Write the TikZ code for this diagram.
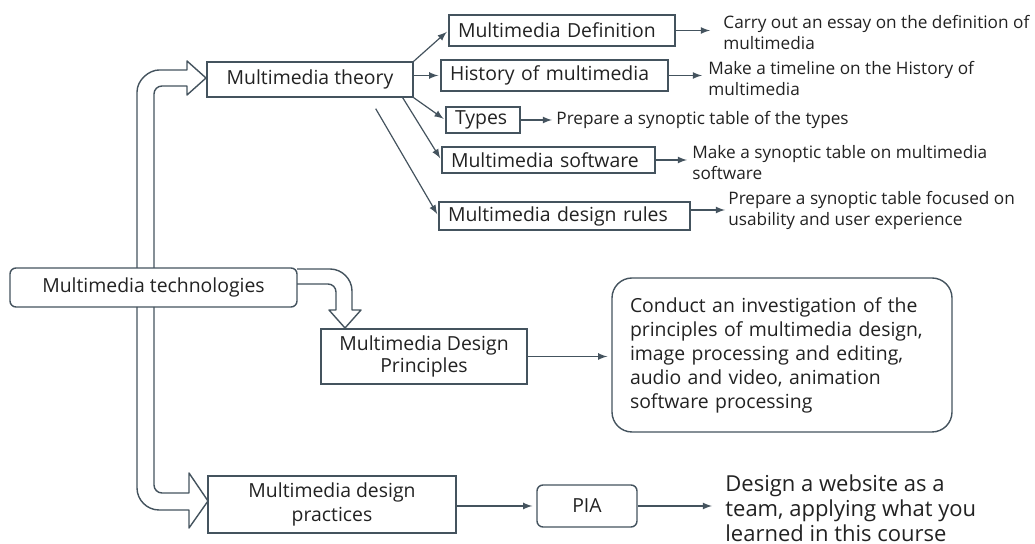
\documentclass[tikz,border=0pt]{standalone}
\usepackage{fontspec}
\setmainfont{Open Sans}
\usetikzlibrary{positioning}

\definecolor{linegrey}{HTML}{44535E}
\definecolor{inkgrey}{HTML}{222222}

\tikzset{
  plainbox/.style={draw=linegrey, line width=0.7pt, text=inkgrey,
    font=\fontsize{9.7}{11}\selectfont, align=center},
  softbox/.style={plainbox, rounded corners=3pt},
  subbox/.style={plainbox, align=left, inner xsep=4.5pt, inner ysep=0pt},
  task/.style={inner sep=0pt, anchor=west, align=left, text=inkgrey,
    font=\fontsize{8.6}{10.5}\selectfont},
  link/.style={draw=linegrey, line width=0.6pt, -latex, shorten >=1pt},
  bigarrow/.style={draw=linegrey, line width=0.7pt, fill=white, line join=round},
}

\begin{document}
\begin{tikzpicture}[x=0.5pt, y=-0.5pt]

\useasboundingbox (0,0) rectangle (1035,544);

% hollow block arrows out of the main box
\draw[bigarrow] (137,268) -- (137,92) .. controls (137,80) and (149,70) .. (159,70)
   -- (187,70) -- (187,61) -- (206,78) -- (187,95) -- (187,86) -- (162,86)
   .. controls (157.6,86) and (154,89.6) .. (154,94) -- (154,268);
\draw[bigarrow] (137,307) -- (137,488) .. controls (137,500) and (147,510) .. (159,510)
   -- (189,510) -- (189,528) -- (208,501) -- (189,473) -- (189,493) -- (162,493)
   .. controls (157.6,493) and (154,489.4) .. (154,485) -- (154,307);
\draw[bigarrow] (297,269) -- (330,269) .. controls (342,269) and (352,279) .. (352,291)
   -- (352,310) -- (361,310) -- (345,328) -- (329,310) -- (336,310) -- (336,292)
   .. controls (336,287.6) and (332.4,284) .. (328,284) -- (297,284);

% main boxes
\node[softbox, minimum width=143.5pt, minimum height=19.5pt] (tech) at (153.5,287.5) {Multimedia technologies};
\node[plainbox, minimum width=103pt, minimum height=17.5pt] (theory) at (310,79.5) {Multimedia theory};
\node[plainbox, minimum width=103pt, minimum height=27.5pt] (princ) at (424,356.5) {Multimedia Design\\Principles};
\node[plainbox, minimum width=124pt, minimum height=27.5pt, font=\fontsize{9.7}{12}\selectfont] (practice) at (332,504.5) {Multimedia design\\practices};
\node[softbox, minimum width=50pt, minimum height=21pt] (pia) at (587,506) {PIA};

% theory topics
\node[subbox, text width=104pt, minimum height=15.5pt] (def) at (562,30.5) {Multimedia Definition};
\node[subbox, text width=104.5pt, minimum height=15.5pt] (hist) at (554.5,75.5) {History of multimedia};
\node[subbox, text width=28pt, minimum height=13pt] (types) at (483,120) {Types};
\node[subbox, text width=97.5pt, minimum height=13pt] (soft) at (548.5,160) {Multimedia software};
\node[subbox, text width=116.5pt, minimum height=14pt] (rules) at (564.5,216) {Multimedia design rules};

% activities
\node[task] (deftask) at (723,32.5) {Carry out an essay on the definition of\\multimedia};
\node[task] (histtask) at (708,78.5) {Make a timeline on the History of\\multimedia};
\node[task] (typestask) at (556,120) {Prepare a synoptic table of the types};
\node[task] (softtask) at (692,163) {Make a synoptic table on multimedia\\software};
\node[task] (rulestask) at (728,210) {Prepare a synoptic table focused on\\usability and user experience};
\node[plainbox, rounded corners=10pt, align=left, inner xsep=9pt, text width=152pt,
      minimum height=77pt, font=\fontsize{9.7}{12}\selectfont] (research) at (782,355)
  {Conduct an investigation of the\\principles of multimedia design,\\image processing and editing,\\audio and video, animation\\software processing};
\node[task, font=\fontsize{11}{12.5}\selectfont] (website) at (725,508)
  {Design a website as a\\team, applying what you\\learned in this course};

% connectors
\draw[link] (theory.north east) -- (def.west);
\draw[link] (theory.east |- hist.west) -- (hist.west);
\draw[link] (theory.south east) -- (types.west);
\draw[link] ([xshift=-5.5pt]theory.south east) -- (soft.west);
\draw[link] ([xshift=-19pt,yshift=-5.5pt]theory.south east) -- (rules.west);

\draw[link, shorten >=6.5pt] (def.east) -- (def.east -| deftask.west);
\draw[link, shorten >=3pt] (hist.east) -- (hist.east -| histtask.west);
\draw[link, shorten >=2pt] (types.east) -- (typestask.west);
\draw[link, shorten >=2.5pt] (soft.east) -- (soft.east -| softtask.west);
\draw[link, shorten >=1.5pt] (rules.east |- rulestask.west) -- (rulestask.west);

\draw[link, shorten >=2pt] (princ.east) -- (princ.east -| research.west);
\draw[link, shorten >=2pt] (practice.east |- pia.west) -- (pia.west);
\draw[link, shorten >=6.5pt] (pia.east) -- (pia.east -| website.west);

\end{tikzpicture}
\end{document}
